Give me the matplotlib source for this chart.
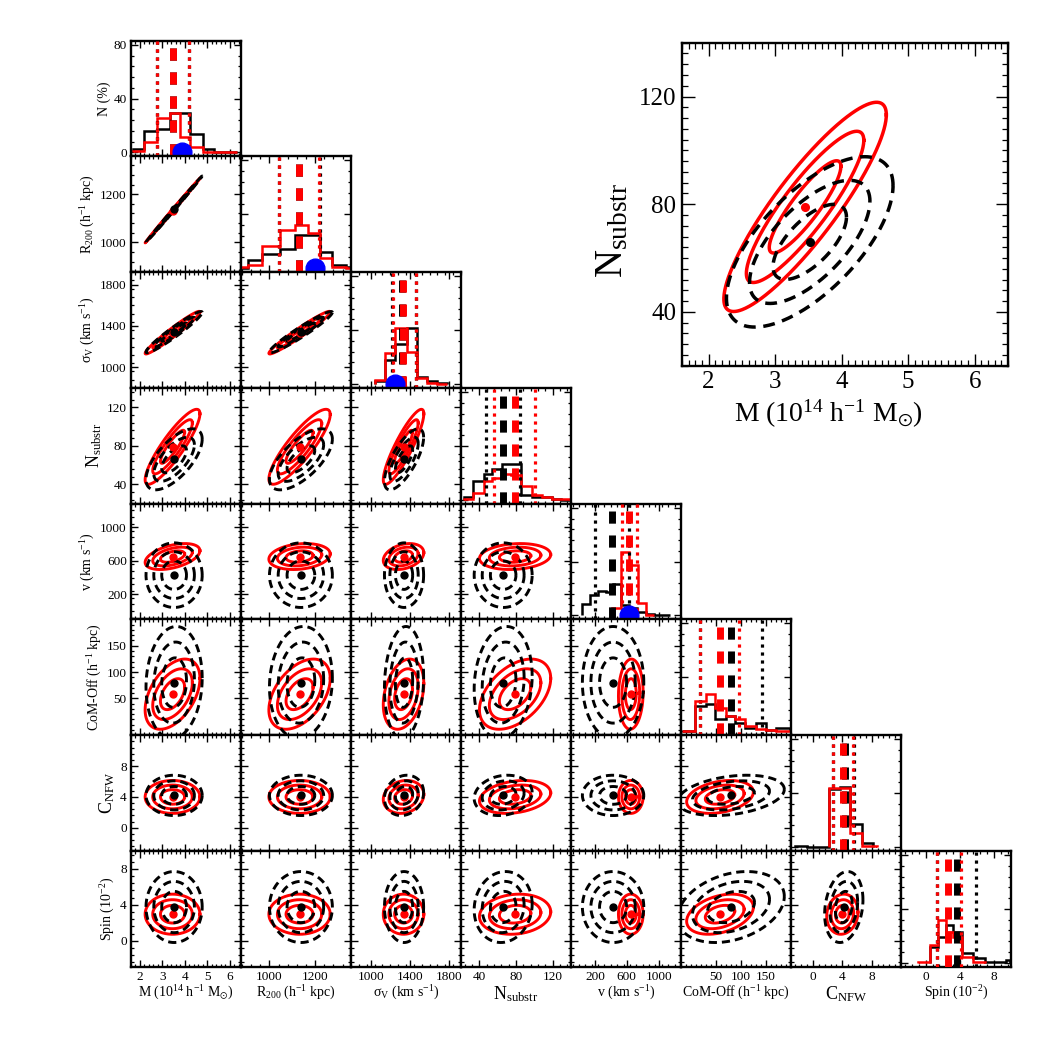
import numpy as np
import matplotlib
matplotlib.use('Agg')
import matplotlib.pyplot as plt
from matplotlib.ticker import FixedLocator, MultipleLocator

plt.rcParams['font.family'] = ['Liberation Serif', 'DejaVu Serif']
plt.rcParams['mathtext.fontset'] = 'stix'
plt.rcParams['mathtext.default'] = 'regular'

# ---------------- data ----------------
names_y = ['N (%)', 'R$_{200}$ (h$^{-1}$ kpc)', r'$\sigma_{V}$ (km s$^{-1}$)', 'N$_{substr}$',
           'v (km s$^{-1}$)', 'CoM-Off (h$^{-1}$ kpc)', 'C$_{NFW}$', 'Spin (10$^{-2}$)']
names_x = [r'M (10$^{14}$ h$^{-1}$ M$_{\odot}$)', 'R$_{200}$ (h$^{-1}$ kpc)', r'$\sigma_{V}$ (km s$^{-1}$)',
           'N$_{substr}$', 'v (km s$^{-1}$)', 'CoM-Off (h$^{-1}$ kpc)', 'C$_{NFW}$', 'Spin (10$^{-2}$)']
big_label = [False, False, False, True, False, False, True, False]

lims = [(1.6, 6.5), (876, 1357), (800, 1920), (20, 140), (-100, 1280), (-20, 200), (-3, 12), (-2.9, 10.0)]
tick_vals = [[2, 3, 4, 5, 6], [1000, 1200], [1000, 1400, 1800], [40, 80, 120], [200, 600, 1000],
             [50, 100, 150], [0, 4, 8], [0, 4, 8]]
minor_step = [0.2, 40, 80, 8, 80, 10, 0.8, 0.8]
pct_lim = (-3, 83)
pct_ticks = [0, 40, 80]

# Gaussian summaries (black = dashed, red = solid)
mean_black = [3.52, 1138, 1340, 66, 428, 80, 4.2, 3.75]
sig_black = [0.364, 40, 58, 9.2, 112, 31, 0.76, 1.15]
mean_red = [3.45, 1132, 1335, 79, 650, 58, 4.0, 2.95]
sig_red = [0.355, 39, 60, 11.3, 45, 19.4, 0.62, 0.65]

# lower-triangle correlations, row i lists r(i, j) for j < i
corr_black = [[],
              [0.999],
              [0.96, 0.96],
              [0.66, 0.66, 0.72],
              [0.0, 0.0, 0.0, 0.0],
              [0.08, 0.08, 0.10, 0.12, 0.0],
              [0.0, 0.0, 0.15, 0.15, 0.0, 0.30],
              [0.0, 0.0, 0.0, 0.08, 0.0, 0.30, 0.20]]
corr_red = [[],
            [0.999],
            [0.97, 0.97],
            [0.88, 0.86, 0.88],
            [0.45, 0.20, 0.30, 0.15],
            [0.45, 0.45, 0.30, 0.45, 0.05],
            [0.0, 0.0, 0.15, 0.25, 0.0, 0.30],
            [0.0, 0.0, 0.0, 0.12, 0.0, 0.35, 0.10]]
chi2_levels = [2.30, 6.18, 11.83]

# histograms (percent)
M_edges = [1.70, 2.20, 2.75, 3.32, 3.77, 4.23, 4.80, 5.28, 5.79, 6.31]
M_black = [2.5, 15.6, 17.4, 29.3, 29.3, 13.9, 2.5, 0.5, 0.2]
M_red = [0.8, 7.4, 25.6, 29.3, 11.5, 4.0, 0.5, 0.3, 0.0]

R_edges = [876, 908, 969, 1045, 1111, 1170, 1221, 1275, 1333, 1357]
R_black = [0.0, 6.1, 10.5, 14.0, 25.0, 25.0, 12.3, 2.4, 0.5]
R_red = [0.5, 2.4, 16.5, 28.4, 32.1, 26.4, 7.4, 0.7, 0.0]

S_edges = [1044, 1146, 1248, 1367, 1469, 1577, 1672, 1774]
S_black = [2.0, 18.0, 30.0, 41.6, 5.0, 2.0, 0.5]
S_red = [3.2, 23.0, 41.6, 24.0, 4.5, 0.7, 0.0]

N_edges = [23.6, 33.4, 45.4, 54.1, 64.4, 74.8, 85.1, 97.1, 108.0, 118.9, 128.9, 138.9]
N_black = [1.8, 14.0, 19.0, 23.0, 26.3, 26.3, 3.5, 1.8, 1.8, 0.3, 0.0]
N_red = [0.3, 5.0, 13.5, 16.0, 19.1, 18.5, 10.2, 3.5, 1.8, 0.5, 0.3]

V_edges_black = [34, 144, 238, 339, 433, 521, 628, 734, 841, 945, 1142]
V_black = [8.3, 15.2, 18.4, 17.7, 23.4, 7.8, 5.3, 2.8, 0.8, 0.5]
V_edges_red = [410, 521, 628, 740, 841, 945]
V_red = [5.3, 47.0, 37.5, 9.0, 0.4]

C_edges = [-18, 8, 30, 48, 69, 88, 108, 130, 150, 170, 198]
C_black = [0.3, 18.7, 20.0, 8.8, 11.5, 5.9, 2.1, 5.9, 0.7, 2.7]
C_red = [0.3, 22.5, 27.6, 17.0, 11.5, 8.8, 3.9, 1.4, 0.5, 0.2]

K_edges_black = [-2.45, -0.86, 2.23, 3.64, 5.05, 6.64, 8.22]
K_black = [1.0, 0.0, 43.0, 44.5, 17.1, 3.2]
K_edges_red = [2.23, 3.64, 5.05, 6.64, 8.69]
K_red = [43.6, 43.6, 10.2, 0.5]

P_edges_black = [0.48, 1.45, 2.42, 3.20, 4.29, 5.52, 7.00, 8.43, 9.40, 9.85]
P_black = [11.4, 19.0, 28.0, 23.0, 7.4, 3.7, 0.7, 0.5, 2.0]
P_edges_red = [-0.88, 0.48, 1.45, 2.42, 3.20, 4.29, 5.52, 7.00]
P_red = [0.5, 13.2, 31.7, 23.0, 19.3, 4.5, 0.5]

hist_black = [(M_edges, M_black), (R_edges, R_black), (S_edges, S_black), (N_edges, N_black),
              (V_edges_black, V_black), (C_edges, C_black), (K_edges_black, K_black), (P_edges_black, P_black)]
hist_red = [(M_edges, M_red), (R_edges, R_red), (S_edges, S_red), (N_edges, N_red),
            (V_edges_red, V_red), (C_edges, C_red), (K_edges_red, K_red), (P_edges_red, P_red)]

# percentile lines (low, median, high)
lines_black = [(2.77, 3.48, 4.20), (1042, 1130, 1222), (1222, 1318, 1465), (47, 65.5, 84.4),
               (201, 418, 628), (18, 79, 141), (2.69, 4.36, 5.6), (1.38, 3.61, 5.89)]
lines_red = [(2.77, 3.48, 4.20), (1042, 1130, 1218), (1224, 1332, 1462), (56.3, 78.9, 100.7),
             (544, 628, 724), (18, 58, 96), (2.69, 4.05, 5.5), (1.38, 2.67, 4.13)]
true_vals = [3.86, 1200, 1248, np.nan, 628, np.nan, np.nan, np.nan]

# ---------------- drawing ----------------
BLACK = 'black'
RED = '#ff0000'
BLUE = '#0000ff'


def ell(mx, my, sx, sy, r, k):
    t = np.linspace(0, 2 * np.pi, 400)
    x = mx + k * sx * np.cos(t)
    y = my + k * sy * (r * np.cos(t) + np.sqrt(1 - r * r) * np.sin(t))
    return x, y


def draw_pair(ax, i, j, lw, dash, ms):
    for k2 in chi2_levels:
        k = np.sqrt(k2)
        x, y = ell(mean_red[j], mean_red[i], sig_red[j], sig_red[i], corr_red[i][j], k)
        ax.plot(x, y, color=RED, lw=lw, zorder=3)
    for k2 in chi2_levels:
        k = np.sqrt(k2)
        x, y = ell(mean_black[j], mean_black[i], sig_black[j], sig_black[i], corr_black[i][j], k)
        ax.plot(x, y, color=BLACK, lw=lw, linestyle=(0, dash), zorder=4)
    ax.plot([mean_red[j]], [mean_red[i]], 'o', color=RED, ms=ms, zorder=5)
    ax.plot([mean_black[j]], [mean_black[i]], 'o', color=BLACK, ms=ms, zorder=5)


def style(ax, big=False):
    ax.tick_params(which='both', direction='in', top=True, right=True, width=1.0,
                   labelsize=18 if big else 9.5, pad=4 if big else 3)
    ax.tick_params(which='major', length=9 if big else 5)
    ax.tick_params(which='minor', length=4.5 if big else 2.5, width=0.9)
    for s in ax.spines.values():
        s.set_linewidth(1.7)


fig = plt.figure(figsize=(10.5, 10.5), dpi=100)
L0 = 131 / 1050
W = 110 / 1050
H = 115.75 / 1050
T0 = 1 - 40.7 / 1050

DOT = (0, (1.0, 1.5))
DASH = (0, (1.75, 1.7))

for i in range(8):
    for j in range(i + 1):
        ax = fig.add_axes([L0 + j * W, T0 - (i + 1) * H, W, H])
        ax.set_xlim(*lims[j])
        ax.xaxis.set_major_locator(FixedLocator(tick_vals[j]))
        ax.xaxis.set_minor_locator(MultipleLocator(minor_step[j]))
        if i == j:
            ax.set_ylim(*pct_lim)
            ax.yaxis.set_major_locator(FixedLocator(pct_ticks))
            ax.yaxis.set_minor_locator(MultipleLocator(8))
            eb, vb = hist_black[i]
            er, vr = hist_red[i]
            ax.stairs(vb, eb, color=BLACK, lw=1.8, zorder=2)
            ax.stairs(vr, er, color=RED, lw=1.8, zorder=2)
            lo, md, hi = lines_black[i]
            ax.axvline(lo, color=BLACK, lw=2.3, linestyle=DOT, zorder=3)
            ax.axvline(hi, color=BLACK, lw=2.3, linestyle=DOT, zorder=3)
            ax.axvline(md, color=BLACK, lw=5.0, linestyle=DASH, zorder=3)
            lo, md, hi = lines_red[i]
            ax.axvline(lo, color=RED, lw=2.3, linestyle=DOT, zorder=4)
            ax.axvline(hi, color=RED, lw=2.3, linestyle=DOT, zorder=4)
            ax.axvline(md, color=RED, lw=5.0, linestyle=DASH, zorder=4)
            if np.isfinite(true_vals[i]):
                ax.plot([true_vals[i]], [0], 'o', color=BLUE, ms=13.5, zorder=6, clip_on=True)
        else:
            ax.set_ylim(*lims[i])
            ax.yaxis.set_major_locator(FixedLocator(tick_vals[i]))
            ax.yaxis.set_minor_locator(MultipleLocator(minor_step[i]))
            draw_pair(ax, i, j, lw=2.1, dash=(2.8, 1.7), ms=5)
        style(ax)
        if j == 0:
            ax.set_ylabel(names_y[i], fontsize=13 if big_label[i] else 10, labelpad=2)
        else:
            ax.tick_params(labelleft=False)
        if i == 7:
            ax.set_xlabel(names_x[j], fontsize=13 if big_label[j] else 10, labelpad=1)
        else:
            ax.tick_params(labelbottom=False)

# inset: M vs N_substr
axi = fig.add_axes([682 / 1050, 1 - 365.7 / 1050, 326 / 1050, 323 / 1050])
axi.set_xlim(*lims[0])
axi.set_ylim(*lims[3])
axi.xaxis.set_major_locator(FixedLocator(tick_vals[0]))
axi.xaxis.set_minor_locator(MultipleLocator(0.1))
axi.yaxis.set_major_locator(FixedLocator(tick_vals[3]))
axi.yaxis.set_minor_locator(MultipleLocator(4))
draw_pair(axi, 3, 0, lw=2.5, dash=(3.4, 2.2), ms=5.5)
style(axi, big=True)
axi.set_xlabel(names_x[0], fontsize=20, labelpad=2)
axi.xaxis.set_label_coords(0.45, -0.1)
axi.set_ylabel(names_y[3], fontsize=28)
axi.yaxis.set_label_coords(-0.155, 0.42)

fig.savefig('out.png', dpi=100)
